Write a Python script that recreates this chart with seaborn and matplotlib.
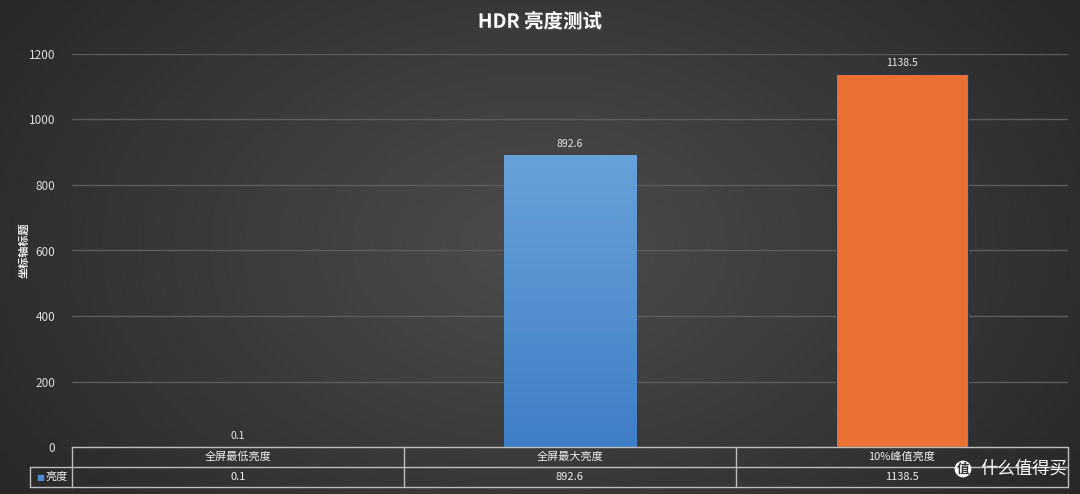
import numpy as np
import pandas as pd
import seaborn as sns
import matplotlib.pyplot as plt
import matplotlib.patheffects as pe

# datos
categorias = ['全屏最低亮度', '全屏最大亮度', '10%峰值亮度']
brillo = [0.1, 892.6, 1138.5]
etiquetas = ['0.1', '892.6', '1138.5']
serie = '亮度'
colores = ['#4a8ad4', '#4a8ad4', '#ea7133']

df = pd.DataFrame({'cat': categorias, 'val': brillo})

sns.set_theme(style='dark')
plt.rcParams['font.family'] = ['Noto Sans CJK SC', 'DejaVu Sans']

W, H = 1080, 494
fig = plt.figure(figsize=(W / 100, H / 100), dpi=100)

# fondo con degradado radial
bg = fig.add_axes([0, 0, 1, 1])
xx, yy = np.meshgrid(np.linspace(-1, 1, 400), np.linspace(-1, 1, 200))
r = np.sqrt((xx / 1.1) ** 2 + (yy / 1.6) ** 2)
img = 0.30 - 0.13 * np.clip(r, 0, 1.2)
bg.imshow(np.dstack([img, img, img]), aspect='auto', extent=[0, 1, 0, 1])
bg.set_axis_off()

left, right, bottom, top = 72, 1068, 447, 54
ax = fig.add_axes([left / W, 1 - bottom / H, (right - left) / W, (bottom - top) / H])
ax.patch.set_alpha(0)

sns.barplot(data=df, x='cat', y='val', hue='cat', palette=colores, width=0.4,
            saturation=1, legend=False, ax=ax, edgecolor='#2d3a4a', linewidth=0.8)

# degradado en la barra azul (claro arriba, oscuro abajo)
for i, p in enumerate(ax.patches):
    if i == 1:
        x0, y0 = p.get_x(), p.get_y()
        w, h = p.get_width(), p.get_height()
        grad = np.linspace(0, 1, 100).reshape(-1, 1)
        c_top = np.array([0.41, 0.63, 0.85])
        c_bot = np.array([0.25, 0.50, 0.78])
        g = c_top + (c_bot - c_top) * grad
        im = ax.imshow(g.reshape(100, 1, 3), extent=[x0, x0 + w, y0, y0 + h],
                       origin='upper', aspect='auto', zorder=p.get_zorder() + 0.1)
        im.set_clip_path(p)
        ax.set_aspect('auto')

ax.set_xlim(-0.5, 2.5)
ax.set_ylim(0, 1200)
ax.set_yticks(range(0, 1201, 200))
ax.tick_params(axis='y', colors='#dddddd', labelsize=8.5, length=0, pad=12)
ax.set_xticks([])
ax.set_xlabel('')
ax.set_ylabel('坐标轴标题', color='#eeeeee', fontsize=8, fontweight='bold')
ax.yaxis.set_label_coords(-0.042, 0.5)
ax.grid(axis='y', color='#5c5c5c', linewidth=1)
for s in ax.spines.values():
    s.set_visible(False)

for i, t in enumerate(etiquetas):
    ax.text(i, brillo[i] + 18, t, ha='center', va='bottom', color='#e6e6e6', fontsize=7.5)

# tabla de datos
fila = 20 / (bottom - top)
trans = ax.get_xaxis_transform()
lc = '#bdbdbd'
xl = -0.5 - 42 / 332
ax.plot([-0.5, 2.5], [0, 0], color=lc, lw=1, transform=trans, clip_on=False)
ax.plot([xl, 2.5], [-fila, -fila], color=lc, lw=1, transform=trans, clip_on=False)
ax.plot([xl, 2.5], [-2 * fila, -2 * fila], color=lc, lw=1, transform=trans, clip_on=False)
for xv in [-0.5, 0.5, 1.5, 2.5]:
    ax.plot([xv, xv], [0, -2 * fila], color=lc, lw=1, transform=trans, clip_on=False)
ax.plot([xl, xl], [-fila, -2 * fila], color=lc, lw=1, transform=trans, clip_on=False)
for i, c in enumerate(categorias):
    ax.text(i, -fila / 2, c, ha='center', va='center', color='#eeeeee', fontsize=8,
            transform=trans)
    ax.text(i, -1.5 * fila, etiquetas[i], ha='center', va='center', color='#eeeeee',
            fontsize=8, transform=trans)
ax.text(xl + 0.02, -1.5 * fila, '■', ha='left', va='center', color='#4a8ad4', fontsize=6,
        transform=trans, family=['DejaVu Sans'])
ax.text(xl + 0.045, -1.5 * fila, serie, ha='left', va='center', color='#eeeeee', fontsize=8,
        transform=trans)

fig.text(0.5, 1 - 22 / H, 'HDR 亮度测试', ha='center', va='center', color='white',
         fontsize=14, fontweight='bold',
         path_effects=[pe.withSimplePatchShadow(offset=(1, -1), alpha=0.6)])

# marca de agua
fig.text(963 / W, 1 - 469 / H, '值', ha='center', va='center', color='#333333', fontsize=9,
         fontweight='bold', bbox=dict(boxstyle='circle,pad=0.15', fc='white', ec='none'))
fig.text(980 / W, 1 - 469 / H, '什么值得买', ha='left', va='center', color='white', fontsize=12.5)

fig.savefig('out.png', dpi=100)
